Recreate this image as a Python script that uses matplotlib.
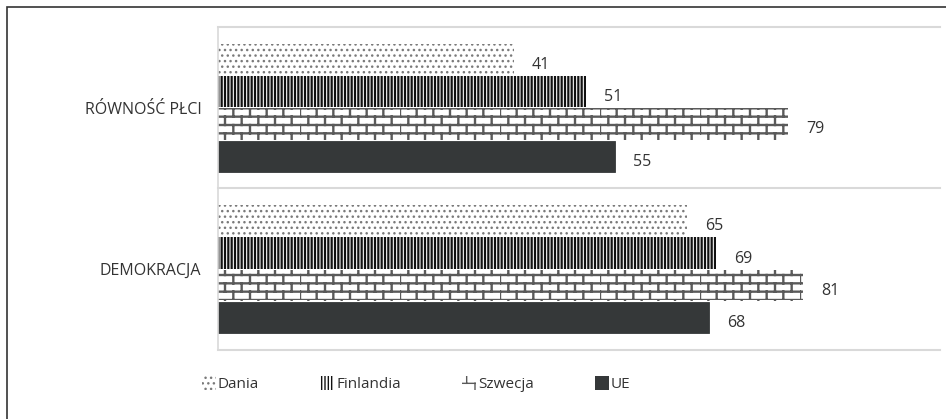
import numpy as np
import matplotlib
matplotlib.use("Agg")
import matplotlib.pyplot as plt
import matplotlib.hatch as mhatch
from matplotlib.path import Path
from matplotlib.patches import Rectangle, Patch


class BrickHatch(mhatch.HatchPatternBase):
    """Brick wall pattern, drawn for the '*' character."""
    def __init__(self, hatch, density):
        n = hatch.count('*')
        self.rows = 12 * n
        self.cols = 6 * n
        if n == 0:
            self.num_vertices = 0
        else:
            self.num_vertices = self.rows * 2 + self.rows * self.cols * 2

    def set_vertices_and_codes(self, vertices, codes):
        rows, cols = self.rows, self.cols
        ys = np.arange(rows) / rows
        vertices[0:rows * 2:2, 0] = 0.0
        vertices[0:rows * 2:2, 1] = ys
        vertices[1:rows * 2:2, 0] = 1.0
        vertices[1:rows * 2:2, 1] = ys
        i = rows * 2
        for k in range(rows):
            shift = 0.5 * (k % 2)
            for j in range(cols):
                x = (j + shift) / cols
                vertices[i] = (x, k / rows)
                vertices[i + 1] = (x, (k + 1) / rows)
                i += 2
        codes[0::2] = Path.MOVETO
        codes[1::2] = Path.LINETO


# swap the stars pattern for bricks
mhatch._hatch_types[:] = [BrickHatch if t is mhatch.Stars else t
                          for t in mhatch._hatch_types]

plt.rcParams['font.family'] = ['Open Sans', 'DejaVu Sans']

categories = ['RÓWNOŚĆ PŁCI', 'DEMOKRACJA']
series = ['Dania', 'Finlandia', 'Szwecja', 'UE']
dania = [41, 65]
finlandia = [51, 69]
szwecja = [79, 81]
ue = [55, 68]
values = [dania, finlandia, szwecja, ue]

styles = [
    dict(color='white', edgecolor='#7a7a7a', hatch='...', hlw=1.0),
    dict(color='white', edgecolor='#111111', hatch='|||||', hlw=1.6),
    dict(color='white', edgecolor='#5a5a5a', hatch='*', hlw=1.7),
    dict(color='#353839', edgecolor='#353839', hatch=None, hlw=1.0),
]

fig = plt.figure(figsize=(9.46, 4.19), dpi=100)
fig.patches.append(Rectangle((7 / 946, -0.05), 1.0, 1 - 7 / 419 + 0.05,
                             transform=fig.transFigure, fill=False,
                             edgecolor='#333333', linewidth=1.2))

ax = fig.add_axes([218 / 946, 1 - 350 / 419, (940 - 218) / 946, 323 / 419])

h = 0.2
y0 = np.arange(len(categories))
handles = []
for i, (name, vals, st) in enumerate(zip(series, values, styles)):
    ys = y0 - 0.3 + i * h
    with plt.rc_context({'hatch.linewidth': st['hlw']}):
        bars = ax.barh(ys, vals, height=h * 0.97, color=st['color'],
                       edgecolor=st['edgecolor'], hatch=st['hatch'],
                       linewidth=0.6 if st['hatch'] is None else 0)
    for b in bars:
        if hasattr(b, 'set_hatch_linewidth'):
            b.set_hatch_linewidth(st['hlw'])
    for y, v in zip(ys, vals):
        ax.annotate(str(v), (v, y), xytext=(13, -4), textcoords='offset points',
                    va='center', ha='left', fontsize=11.5, color='#333333')
    with plt.rc_context({'hatch.linewidth': st['hlw']}):
        hp = Patch(facecolor=st['color'], edgecolor=st['edgecolor'],
                   hatch=st['hatch'], linewidth=0, label=name)
    if hasattr(hp, 'set_hatch_linewidth'):
        hp.set_hatch_linewidth(st['hlw'])
    handles.append(hp)

ax.set_xlim(0, 100)
ax.set_ylim(1.5, -0.5)
ax.set_xticks([])
ax.set_yticks(y0)
ax.set_yticklabels(categories, fontsize=11.5, color='#333333')
ax.tick_params(axis='y', length=0, pad=12)
for s in ['top', 'right', 'bottom']:
    ax.spines[s].set_visible(False)
ax.spines['left'].set_color('#d9d9d9')
ax.spines['left'].set_linewidth(1.2)
for yb in [-0.5, 0.5, 1.5]:
    ax.axhline(yb, color='#d9d9d9', linewidth=1.5, clip_on=False, zorder=0)

fig.legend(handles=handles, loc='center', bbox_to_anchor=(0.440, 1 - 384 / 419),
           ncol=4, frameon=False, fontsize=11, handlelength=0.9,
           handleheight=1.0, handletextpad=0.15, columnspacing=4.0,
           labelcolor='#333333')

fig.savefig('out.png', dpi=100)
